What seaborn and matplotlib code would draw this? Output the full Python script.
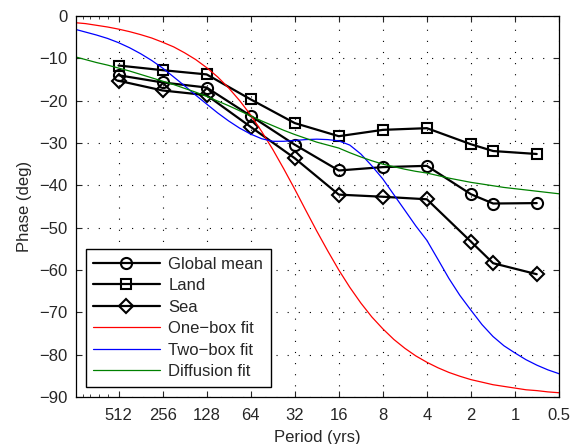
import numpy as np
import matplotlib
matplotlib.use("Agg")
import matplotlib.pyplot as plt
import seaborn as sns

# measured phase lag by period
periods = [512, 256, 128, 64, 32, 16, 8, 4, 2, 1.41, 0.71]
global_mean = [-14.0, -15.7, -16.9, -23.6, -30.4, -36.5, -35.7, -35.4, -42.1, -44.3, -44.2]
land = [-11.7, -12.8, -13.8, -19.7, -25.3, -28.4, -26.9, -26.5, -30.3, -31.9, -32.6]
sea = [-15.3, -17.6, -18.7, -26.2, -33.6, -42.2, -42.7, -43.3, -53.3, -58.4, -61.0]

fit_periods = [1000, 861, 724, 609, 512, 430.5, 362, 304, 256, 215, 181, 152, 128,
               107.6, 90.5, 76.1, 64, 53.8, 45.25, 38.05, 32, 26.9, 22.63, 19.03, 16,
               13.45, 11.31, 9.51, 8, 6.73, 5.657, 4.76, 4, 3.36, 2.828, 2.38, 2,
               1.68, 1.414, 1.19, 1, 0.84, 0.707, 0.595, 0.5]
one_box = [-1.6, -1.8, -2.2, -2.6, -3.1, -3.7, -4.4, -5.2, -6.2, -7.3, -8.7, -10.3, -12.2,
           -14.4, -17.0, -20.0, -23.4, -27.3, -31.5, -36.1, -40.9, -45.9, -50.8, -55.5, -60.0,
           -64.1, -67.8, -71.1, -73.9, -76.4, -78.5, -80.3, -81.8, -83.1, -84.2, -85.1, -85.9,
           -86.5, -87.1, -87.5, -87.9, -88.3, -88.5, -88.8, -89.0]
two_box = [-3.2, -3.8, -4.5, -5.3, -6.3, -7.5, -8.9, -10.5, -12.3, -14.4, -16.5, -18.7, -20.8,
           -22.9, -24.8, -26.5, -27.9, -29.0, -29.6, -29.6, -29.4, -29.2, -29.1, -29.2, -29.5,
           -30.5, -32.6, -35.4, -38.5, -42.2, -45.9, -49.6, -53.0, -57.5, -62.0, -66.0, -69.5,
           -72.9, -75.7, -77.9, -79.6, -81.2, -82.5, -83.6, -84.5]
diffusion = [-9.7, -10.3, -11.0, -11.6, -12.3, -13.0, -13.8, -14.6, -15.4, -16.2, -17.1, -18.0, -19.0,
             -20.1, -21.2, -22.4, -23.6, -24.8, -25.9, -27.0, -28.0, -28.9, -29.8, -30.5, -31.2,
             -32.3, -33.3, -34.2, -35.0, -35.6, -36.2, -36.7, -37.1, -37.7, -38.3, -38.8, -39.3,
             -39.7, -40.1, -40.5, -40.8, -41.1, -41.4, -41.7, -42.0]

tick_periods = [512, 256, 128, 64, 32, 16, 8, 4, 2, 1, 0.5]
tick_labels = ["512", "256", "128", "64", "32", "16", "8", "4", "2", "1", "0.5"]

sns.set_style("ticks")
plt.rcParams["font.family"] = ["Liberation Sans", "DejaVu Sans"]
plt.rcParams["font.size"] = 12

fig = plt.figure(figsize=(5.74, 4.44), dpi=100)
ax = fig.add_axes([0.1324, 0.1059, 0.8415, 0.8581])

mk = dict(color="k", linewidth=1.6, markerfacecolor="none", markeredgecolor="k",
          markeredgewidth=1.5)
sns.lineplot(x=periods, y=global_mean, marker="o", markersize=8, label="Global mean", ax=ax, **mk)
sns.lineplot(x=periods, y=land, marker="s", markersize=7.5, label="Land", ax=ax, **mk)
sns.lineplot(x=periods, y=sea, marker="D", markersize=7, label="Sea", ax=ax, **mk)

sns.lineplot(x=fit_periods, y=one_box, color="#ff0000", linewidth=0.9, label="One\u2212box fit", ax=ax)
sns.lineplot(x=fit_periods, y=two_box, color="#0000ff", linewidth=0.9, label="Two\u2212box fit", ax=ax)
sns.lineplot(x=fit_periods, y=diffusion, color="#008000", linewidth=0.9, label="Diffusion fit", ax=ax)

ax.set_xscale("log")
ax.set_xlim(1000, 0.5)
ax.set_ylim(-90, 0)
ax.set_xticks(tick_periods)
ax.set_xticklabels(tick_labels)
ax.set_xticks([600, 700, 800, 900], minor=True)
ax.set_xticklabels([], minor=True)
ax.set_yticks(np.arange(-90, 1, 10))

ax.grid(True, which="major", color="k", linestyle=(0, (1, 9)), linewidth=0.8)
ax.tick_params(which="both", direction="in", top=True, right=True, labelsize=12)
ax.tick_params(axis="x", pad=8)
ax.tick_params(axis="y", pad=6)
ax.tick_params(which="major", length=4, width=0.8)
ax.tick_params(which="minor", length=2, width=0.6)
for s in ax.spines.values():
    s.set_visible(True)
    s.set_color("k")
    s.set_linewidth(0.9)

ax.set_xlabel("Period (yrs)", fontsize=12, labelpad=5)
ax.set_ylabel("Phase (deg)", fontsize=12, labelpad=5)

leg = ax.legend(loc="lower left", bbox_to_anchor=(0.02, 0.027), borderaxespad=0,
                frameon=True, fancybox=False, framealpha=1, edgecolor="k",
                handlelength=4.0, handletextpad=0.5, labelspacing=0.39,
                borderpad=0.45, fontsize=12)
leg.get_frame().set_linewidth(1.0)

fig.savefig("out.png", dpi=100)
